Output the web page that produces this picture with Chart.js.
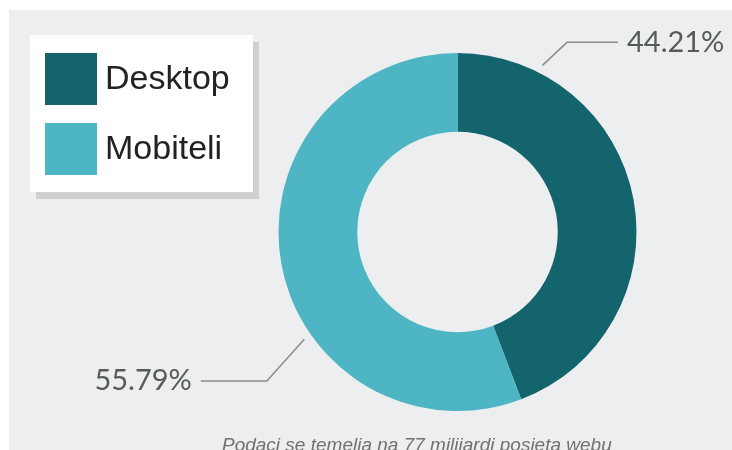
<!DOCTYPE html>
<html>
<head>
<meta charset="utf-8">
<script src="https://cdn.jsdelivr.net/npm/chart.js@4/dist/chart.umd.min.js"></script>
<style>
    html, body { margin: 0; padding: 0; background: #ffffff; }
    #wrap { width: 732px; height: 450px; position: relative; }
</style>
</head>
<body>
<div id="wrap"><canvas id="pieChart" width="732" height="450"></canvas></div>
<script>
// data
const labels = ['Desktop', 'Mobiteli'];
const shares = [44.21, 55.79];
const valueLabels = ['44.21%', '55.79%'];
const caption = 'Podaci se temelja na 77 milijardi posjeta webu';

const colors = ['#14646e', '#4db5c3'];
const textColor = '#555a5d';

// where each leader line leaves the ring (degrees clockwise from top) and how it bends
const leaders = [
    { anchorDeg: 27, elbowDeg: 30, elbowR: 219, side: 1, run: 51 },
    { anchorDeg: 235, elbowDeg: 232, elbowR: 242, side: -1, run: 66 }
];

const backgroundPlugin = {
    id: 'background',
    beforeDraw(chart) {
        const ctx = chart.ctx;
        ctx.save();
        ctx.fillStyle = '#ffffff';
        ctx.fillRect(0, 0, chart.width, chart.height);
        ctx.fillStyle = '#edeef0';
        ctx.fillRect(9, 10, chart.width - 9, chart.height - 10);
        ctx.restore();
    }
};

const legendBoxPlugin = {
    id: 'legendBox',
    afterDraw(chart) {
        const ctx = chart.ctx;
        ctx.save();
        // shadow + box
        ctx.fillStyle = '#cfd0d2';
        ctx.fillRect(36, 42, 223, 157);
        ctx.fillStyle = '#ffffff';
        ctx.fillRect(30, 35, 223, 157);
        chart.data.labels.forEach((lbl, i) => {
            const y = 53 + i * 70;
            ctx.fillStyle = chart.data.datasets[0].backgroundColor[i];
            ctx.fillRect(45, y, 52, 52);
            ctx.fillStyle = '#222222';
            ctx.font = '34px "Liberation Sans", Arial, sans-serif';
            ctx.textBaseline = 'middle';
            ctx.textAlign = 'left';
            ctx.fillText(lbl, 105, y + 27);
        });
        ctx.restore();
    }
};

const leaderPlugin = {
    id: 'leaders',
    afterDraw(chart) {
        const ctx = chart.ctx;
        const meta = chart.getDatasetMeta(0);
        ctx.save();
        meta.data.forEach((arc, i) => {
            const cfg = leaders[i];
            const cx = arc.x, cy = arc.y;
            const rad = d => (d - 90) * Math.PI / 180;
            const r0 = arc.outerRadius + 8;
            const x0 = cx + Math.cos(rad(cfg.anchorDeg)) * r0;
            const y0 = cy + Math.sin(rad(cfg.anchorDeg)) * r0;
            const x1 = cx + Math.cos(rad(cfg.elbowDeg)) * cfg.elbowR;
            const y1 = cy + Math.sin(rad(cfg.elbowDeg)) * cfg.elbowR;
            const x2 = x1 + cfg.side * cfg.run;
            ctx.strokeStyle = '#8a8c8e';
            ctx.lineWidth = 1.5;
            ctx.beginPath();
            ctx.moveTo(x0, y0);
            ctx.lineTo(x1, y1);
            ctx.lineTo(x2, y1);
            ctx.stroke();
            ctx.fillStyle = textColor;
            ctx.font = '29px Lato, "Open Sans", sans-serif';
            ctx.textBaseline = 'middle';
            ctx.textAlign = cfg.side > 0 ? 'left' : 'right';
            ctx.fillText(valueLabels[i], x2 + cfg.side * 9, y1);
        });
        // footnote
        ctx.fillStyle = '#6f7173';
        ctx.font = 'italic 19px "Liberation Sans", Arial, sans-serif';
        ctx.textAlign = 'left';
        ctx.textBaseline = 'alphabetic';
        ctx.fillText(caption, 222, 451);
        ctx.restore();
    }
};

new Chart(document.getElementById('pieChart').getContext('2d'), {
    type: 'doughnut',
    data: {
        labels: labels,
        datasets: [{
            data: shares,
            backgroundColor: colors,
            borderWidth: 0
        }]
    },
    options: {
        responsive: false,
        animation: false,
        cutout: '56%',
        layout: {
            padding: { left: 278, right: 95, top: 53, bottom: 39 }
        },
        plugins: {
            legend: { display: false },
            tooltip: { enabled: false }
        }
    },
    plugins: [backgroundPlugin, legendBoxPlugin, leaderPlugin]
});
</script>
</body>
</html>
